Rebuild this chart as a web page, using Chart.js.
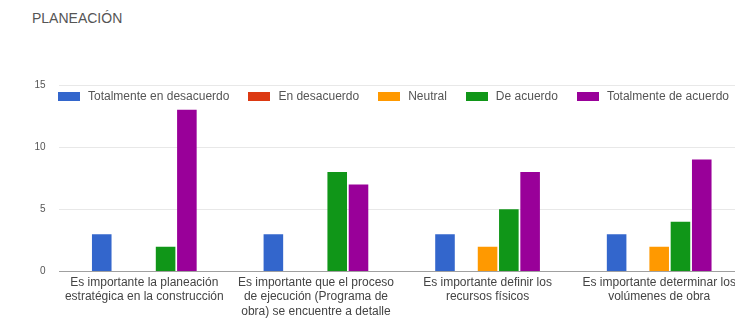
<!DOCTYPE html>
<html>
<head>
<meta charset="utf-8">
<script src="https://cdn.jsdelivr.net/npm/chart.js@4"></script>
<style>
  html, body { margin: 0; padding: 0; background: #fff; overflow: hidden; }
  #wrap { position: relative; width: 750px; height: 321px; }
  #title {
    position: absolute; left: 32px; top: 10px;
    font: 14px "Liberation Sans", Arial, sans-serif; color: #555;
  }
  canvas { position: absolute; left: 0; top: 0; }
  #legend {
    position: absolute; left: 58px; top: 89px; display: flex; white-space: nowrap;
    font: 12px "Liberation Sans", Arial, sans-serif; color: #555; z-index: 2;
  }
  #legend .item { display: flex; align-items: center; margin-right: 19px; background: #fff; }
  #legend .box { width: 22px; height: 9px; margin-right: 8px; }
</style>
</head>
<body>
<div id="wrap">
  <div id="title">PLANEACIÓN</div>
  <canvas id="chart" width="750" height="321"></canvas>
  <div id="legend"></div>
</div>
<script>
'use strict';

const categories = [
  ['Es importante la planeación', 'estratégica en la construcción'],
  ['Es importante que el proceso', 'de ejecución (Programa de', 'obra) se encuentre a detalle'],
  ['Es importante definir los', 'recursos físicos'],
  ['Es importante determinar los', 'volúmenes de obra'],
];

const seriesNames = [
  'Totalmente en desacuerdo',
  'En desacuerdo',
  'Neutral',
  'De acuerdo',
  'Totalmente de acuerdo',
];
const seriesColors = ['#3366cc', '#dc3912', '#ff9900', '#109618', '#990099'];

const totalDesacuerdo = [3, 3, 3, 3];
const enDesacuerdo = [0, 0, 0, 0];
const neutral = [0, 0, 2, 2];
const deAcuerdo = [2, 8, 5, 4];
const totalAcuerdo = [13, 7, 8, 9];

const yTicks = [0, 5, 10, 15];

const seriesValues = [totalDesacuerdo, enDesacuerdo, neutral, deAcuerdo, totalAcuerdo];
const font = '"Liberation Sans", Arial, sans-serif';

const chart = new Chart(document.getElementById('chart'), {
  type: 'bar',
  data: {
    labels: categories,
    datasets: seriesValues.map((vals, i) => ({
      label: seriesNames[i],
      data: vals,
      backgroundColor: seriesColors[i],
      borderWidth: 0,
      categoryPercentage: 0.62,
      barPercentage: 0.92,
    })),
  },
  options: {
    responsive: false,
    animation: false,
    layout: { padding: { top: 85, right: 5, left: 0, bottom: 0 } },
    plugins: {
      title: { display: false },
      tooltip: { enabled: false },
      legend: { display: false },
    },
    scales: {
      x: {
        grid: { display: false, drawTicks: false },
        border: { display: false },
        ticks: {
          color: '#444',
          padding: 4,
          maxRotation: 0,
          autoSkip: false,
          font: { family: font, size: 12, lineHeight: 1.2 },
        },
        afterFit: (scale) => { scale.height = 49.5; },
      },
      y: {
        min: 0,
        max: 15,
        afterBuildTicks: (scale) => { scale.ticks = yTicks.map((v) => ({ value: v })); },
        grid: {
          drawTicks: false,
          color: (ctx) => (ctx.tick && ctx.tick.value === 0 ? '#a0a0a0' : '#e8e8e8'),
        },
        border: { display: false },
        ticks: {
          color: '#555',
          padding: 13,
          font: { family: font, size: 10 },
        },
        afterFit: (scale) => { scale.width = 58.5; },
      },
    },
  },
});

// HTML legend placed inside the plot area, like the original
const legendEl = document.getElementById('legend');
chart.data.datasets.forEach((ds) => {
  const item = document.createElement('div');
  item.className = 'item';
  const box = document.createElement('span');
  box.className = 'box';
  box.style.background = ds.backgroundColor;
  const txt = document.createElement('span');
  txt.textContent = ds.label;
  item.appendChild(box);
  item.appendChild(txt);
  legendEl.appendChild(item);
});
</script>
</body>
</html>
